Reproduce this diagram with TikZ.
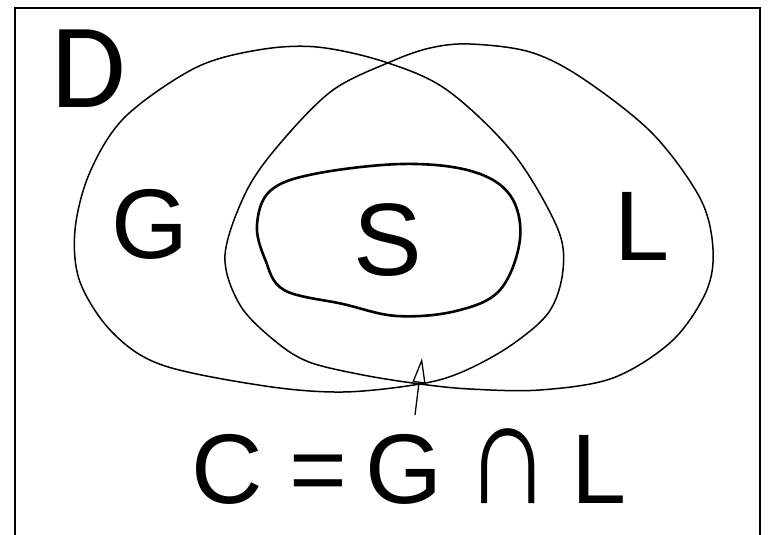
\documentclass[tikz,border=0pt]{standalone}
\usepackage{fontspec}
\setmainfont{Liberation Sans}
\newfontfamily\dfont{Carlito}
\usetikzlibrary{arrows.meta}
\begin{document}
\begin{tikzpicture}[x=1pt,y=-1pt,>={Triangle[open,length=25pt,width=13pt]},
  setline/.style={line width=1.5pt},
  letter/.style={inner sep=0pt,font=\fontsize{99}{99}\selectfont}]
\useasboundingbox (0,0) rectangle (769,535);
\draw[line width=1.8pt] (15,8) rectangle (760,560);
\node[inner sep=0pt, font=\dfont\fontsize{121}{121}\selectfont] (d) at (89,69) {D};
% the two sets
\draw[setline] plot[smooth cycle, tension=0.55] coordinates {(317,47) (385,62) (447,90) (513,153) (557,227) (563,270) (549,312) (510,346) (462,372) (420,384) (343,392) (265,386) (162,365) (112,332) (80,282) (75,230) (90,172) (125,117) (195,68) (258,50)};
\draw[setline] plot[smooth cycle, tension=0.55] coordinates {(470,44) (530,52) (582,78) (652,133) (700,198) (713,249) (706,292) (672,341) (613,378) (540,390) (470,389) (420,384) (363,375) (309,362) (275,341) (240,305) (225,255) (247,190) (283,140) (333,90) (390,62) (430,48)};
% S inside
\draw[line width=2.6pt] plot[smooth cycle, tension=0.6] coordinates {(402,164) (471,171) (510,195) (520,239) (500,290) (456,311) (397,316) (343,304) (284,290) (265,259) (257,225) (270,191) (314,174)};
\node[letter] (g) at (150,224) {G};
\node[letter] (l) at (642,226) {L};
\node[letter, font=\fontsize{103}{103}\selectfont] (s) at (388,240) {S};
\node[letter, anchor=base] (c) at (409,503) {C\hspace{27pt}=\hspace{18pt}G\hspace{23pt}\scalebox{1.2}[1.5]{∩}\hspace{21pt}L};
\coordinate (tail) at (415,415);
\coordinate (tip) at (422,358);
\draw[->, line width=1.3pt] (tail) -- (tip);
\end{tikzpicture}
\end{document}
